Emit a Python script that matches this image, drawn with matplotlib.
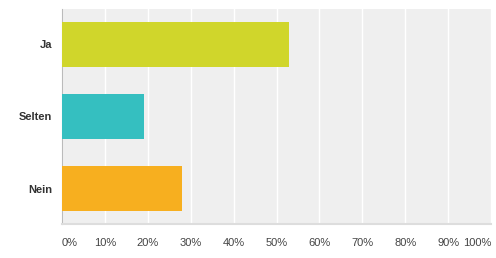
import matplotlib
matplotlib.use('Agg')
import matplotlib.pyplot as plt

# Data
categories = ['Ja', 'Selten', 'Nein']
values = [53, 19, 28]
colors = ['#D0D62B', '#35BFC0', '#F7AF1F']
ticks = [0, 10, 20, 30, 40, 50, 60, 70, 80, 90, 100]
ticklabels = ['%d%%' % t for t in ticks]

plt.rcParams['font.family'] = ['Liberation Sans', 'DejaVu Sans']

fig = plt.figure(figsize=(4.96, 2.58), dpi=100)
ax = fig.add_axes([62/496, 34/258, 429/496, 215/258])
ax.set_facecolor('#EFEFEF')

ypos = range(len(categories))
ax.barh(ypos, values, height=0.625, color=colors, zorder=3)

ax.set_xlim(0, 100)
ax.set_ylim(2.49, -0.49)
ax.set_xticks(ticks)
ax.set_xticklabels(ticklabels, fontsize=8, color='#444444')
labs = ax.get_xticklabels()
labs[0].set_horizontalalignment('left')
labs[-1].set_horizontalalignment('right')
ax.tick_params(axis='x', length=0, pad=10)

ax.set_yticks(list(ypos))
ax.set_yticklabels(categories, fontsize=8, fontweight='bold', color='#333333')
ax.tick_params(axis='y', length=0, pad=7)

ax.grid(axis='x', color='white', linewidth=1, zorder=1)
ax.set_axisbelow(True)

for s in ['top', 'right']:
    ax.spines[s].set_visible(False)
ax.spines['left'].set_color('#BBBBBB')
ax.spines['bottom'].set_color('#DDDDDD')
ax.spines['bottom'].set_linewidth(1.5)

plt.savefig('out.png', dpi=100)
